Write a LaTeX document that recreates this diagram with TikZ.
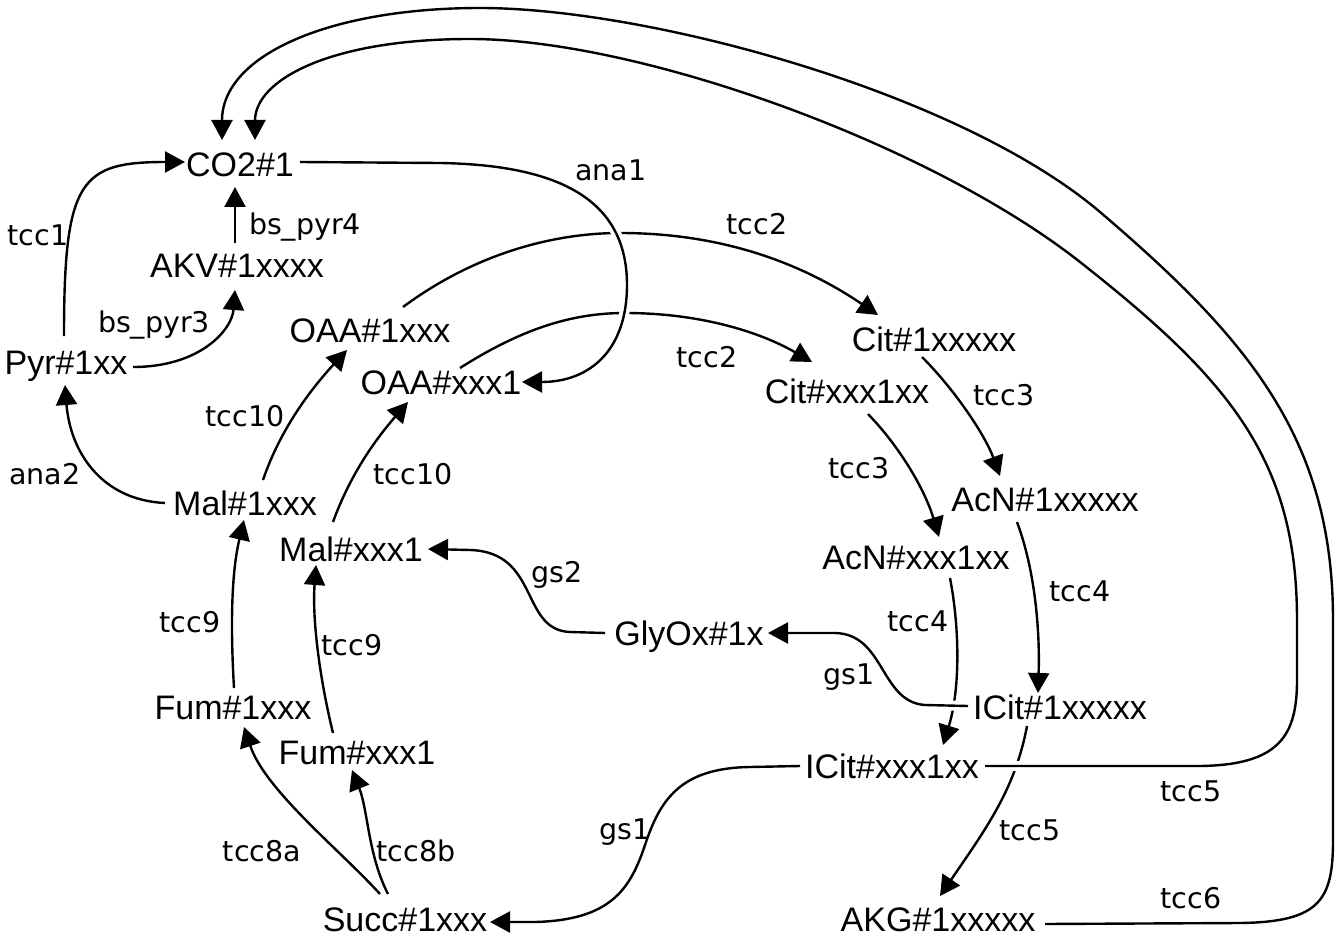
\documentclass[tikz,border=0pt]{standalone}
\usepackage{fontspec}
\setmainfont{Liberation Sans}
\newfontfamily\lblfont{DejaVu Sans}
\usetikzlibrary{arrows.meta,calc}
\pgfdeclarelayer{paper}
\pgfdeclarelayer{edges}
\pgfsetlayers{paper,edges,main}
\begin{document}
\begin{tikzpicture}[x=1pt,y=-1pt,
  met/.style={anchor=base,inner sep=0pt,font=\fontsize{34}{40}\selectfont},
  lbl/.style={anchor=base,inner sep=0pt,font=\lblfont\fontsize{28.5}{34}\selectfont},
  flux/.style={draw=black,line width=2.4pt,-{Triangle[length=20pt,width=21pt]}},
  halo/.style={preaction={draw=white,line width=10pt,arrows=-}}]
\begin{pgfonlayer}{paper}
\fill[white] (0,0) rectangle (1336,936);
\end{pgfonlayer}
\useasboundingbox (0,0) rectangle (1336,936);

% metabolites
\node[met] (CO2)   at (240,177)  {CO2\#1};
\node[met] (AKV)   at (237,277)  {AKV\#1xxxx};
\node[met] (Pyr)   at (66,374)   {Pyr\#1xx};
\node[met] (OAA1)  at (370,342)  {OAA\#1xxx};
\node[met] (OAA2)  at (441,394)  {OAA\#xxx1};
\node[met] (Cit1)  at (934,351)  {Cit\#1xxxxx};
\node[met] (Cit2)  at (847,403)  {Cit\#xxx1xx};
\node[met] (AcN1)  at (1045,511) {AcN\#1xxxxx};
\node[met] (AcN2)  at (916,569)  {AcN\#xxx1xx};
\node[met] (Mal1)  at (245,515)  {Mal\#1xxx};
\node[met] (Mal2)  at (351,561)  {Mal\#xxx1};
\node[met] (Gly)   at (689,645)  {GlyOx\#1x};
\node[met] (Fum1)  at (233,719)  {Fum\#1xxx};
\node[met] (Fum2)  at (357,764)  {Fum\#xxx1};
\node[met] (ICit1) at (1060,719) {ICit\#1xxxxx};
\node[met] (ICit2) at (892,778)  {ICit\#xxx1xx};
\node[met] (Succ)  at (405,931)  {Succ\#1xxx};
\node[met] (AKG)   at (938,931)  {AKG\#1xxxxx};

% reaction labels
\node[lbl] (lTccA)  at (38,245)   {tcc1};
\node[lbl] (lBsB)   at (305,235)  {bs\_pyr4};
\node[lbl] (lBsA)   at (154,332)  {bs\_pyr3};
\node[lbl] (lAnaA)  at (611,181)  {ana1};
\node[lbl] (lTccBa) at (757,235)  {tcc2};
\node[lbl] (lTccBb) at (707,367)  {tcc2};
\node[lbl] (lTccCa) at (1004,405) {tcc3};
\node[lbl] (lTccCb) at (859,478)  {tcc3};
\node[lbl] (lTccDa) at (1080,601) {tcc4};
\node[lbl] (lTccDb) at (918,631)  {tcc4};
\node[lbl] (lGsAa)  at (849,684)  {gs1};
\node[lbl] (lGsB)   at (557,582)  {gs2};
\node[lbl] (lTccJa) at (245,426)  {tcc10};
\node[lbl] (lTccJb) at (413,484)  {tcc10};
\node[lbl] (lAnaB)  at (45,484)   {ana2};
\node[lbl] (lTccIa) at (190,632)  {tcc9};
\node[lbl] (lTccIb) at (352,655)  {tcc9};
\node[lbl] (lTccHa) at (262,861)  {tcc8a};
\node[lbl] (lTccHb) at (416,861)  {tcc8b};
\node[lbl] (lGsAb)  at (625,839)  {gs1};
\node[lbl] (lTccEa) at (1030,840) {tcc5};
\node[lbl] (lTccEb) at (1191,801) {tcc5};
\node[lbl] (lTccF)  at (1191,908) {tcc6};

\begin{pgfonlayer}{edges}
% upper-left part
\draw[flux] ($(Pyr.base)+(-2,-38)$) .. controls (64,180) and (80,162) .. ($(CO2.base)+(-55,-15)$);
\draw[flux] ($(AKV.base)+(-2,-34)$) -- ($(CO2.base)+(-5,10)$);
\draw[flux] ($(Pyr.base)+(67,-7)$) .. controls (200,367) and (232,330) .. ($(AKV.base)+(-2,13)$);
\draw[flux] ($(Mal1.base)+(-80,-12)$) .. controls (100,500) and (70,450) .. ($(Pyr.base)+(-1,11)$);

% citrate synthase
\draw[flux] ($(OAA1.base)+(33,-35)$) .. controls (480,250) and (560,233) .. (620,233)
  .. controls (720,233) and (800,262) .. ($(Cit1.base)+(-56,-36)$);
\draw[flux] ($(OAA2.base)+(19,-26)$) .. controls (520,330) and (570,313) .. (625,313)
  .. controls (700,313) and (760,332) .. ($(Cit2.base)+(-35,-41)$);
% carboxylation, drawn over the citrate synthase arcs
\draw[flux,halo] ($(CO2.base)+(60,-15)$) -- (440,163) .. controls (560,165) and (627,200) .. (627,285)
  .. controls (627,350) and (590,382) .. ($(OAA2.base)+(81,-12)$);

% aconitase
\draw[flux] ($(Cit1.base)+(-12,6)$) .. controls (955,390) and (985,435) .. ($(AcN1.base)+(-45,-35)$);
\draw[flux] ($(Cit2.base)+(21,11)$) .. controls (900,447) and (925,490) .. ($(AcN2.base)+(23,-32)$);
\draw[flux] ($(AcN1.base)+(-28,11)$) .. controls (1035,570) and (1040,630) .. ($(ICit1.base)+(-22,-26)$);
\draw[flux] ($(AcN2.base)+(34,9)$) .. controls (960,630) and (960,690) .. ($(ICit2.base)+(51,-33)$);

% glyoxylate shunt
\draw[flux,halo] ($(ICit1.base)+(-92,-13)$) -- (925,705) .. controls (880,702) and (885,634) .. (835,633)
  -- ($(Gly.base)+(79,-12)$);
\draw[flux] ($(Gly.base)+(-84,-12)$) -- (570,632) .. controls (520,630) and (540,552) .. (470,550)
  -- ($(Mal2.base)+(77,-12)$);
\draw[flux] ($(ICit2.base)+(-92,-12)$) -- (750,767) .. controls (680,768) and (660,800) .. (645,845)
  .. controls (630,890) and (610,920) .. (535,922) -- ($(Succ.base)+(85,-9)$);

% isocitrate dehydrogenase
\draw[flux] ($(ICit1.base)+(-33,7)$) .. controls (1015,790) and (985,830) .. ($(AKG.base)+(2,-35)$);
\draw[flux,halo] ($(ICit2.base)+(93,-12)$) -- (1200,766) .. controls (1280,765) and (1297,735) .. (1297,680)
  -- (1297,620) .. controls (1297,460) and (1230,380) .. (1080,262)
  .. controls (930,144) and (640,39) .. (470,39)
  .. controls (330,39) and (255,80) .. ($(CO2.base)+(15,-37)$);
% alpha-ketoglutarate dehydrogenase
\draw[flux] ($(AKG.base)+(107,-7)$) -- (1240,923) .. controls (1320,922) and (1333,900) .. (1333,840)
  -- (1333,620) .. controls (1333,440) and (1250,340) .. (1100,212)
  .. controls (960,93) and (650,8) .. (480,8)
  .. controls (330,8) and (222,55) .. ($(CO2.base)+(-18,-37)$);

% lower-left part
\draw[flux] ($(Succ.base)+(-25,-37)$) .. controls (340,850) and (265,790) .. ($(Fum1.base)+(11,8)$);
\draw[flux] ($(Succ.base)+(-17,-37)$) .. controls (368,855) and (368,810) .. ($(Fum2.base)+(-5,6)$);
\draw[flux] ($(Fum1.base)+(1,-31)$) .. controls (230,620) and (232,570) .. ($(Mal1.base)+(-1,5)$);
\draw[flux] ($(Fum2.base)+(-24,-31)$) .. controls (320,680) and (312,620) .. ($(Mal2.base)+(-35,4)$);
\draw[flux] ($(Mal1.base)+(18,-35)$) .. controls (280,430) and (310,390) .. ($(OAA1.base)+(-23,8)$);
\draw[flux] ($(Mal2.base)+(-18,-39)$) .. controls (350,475) and (375,440) .. ($(OAA2.base)+(-33,8)$);
\end{pgfonlayer}
\end{tikzpicture}
\end{document}
